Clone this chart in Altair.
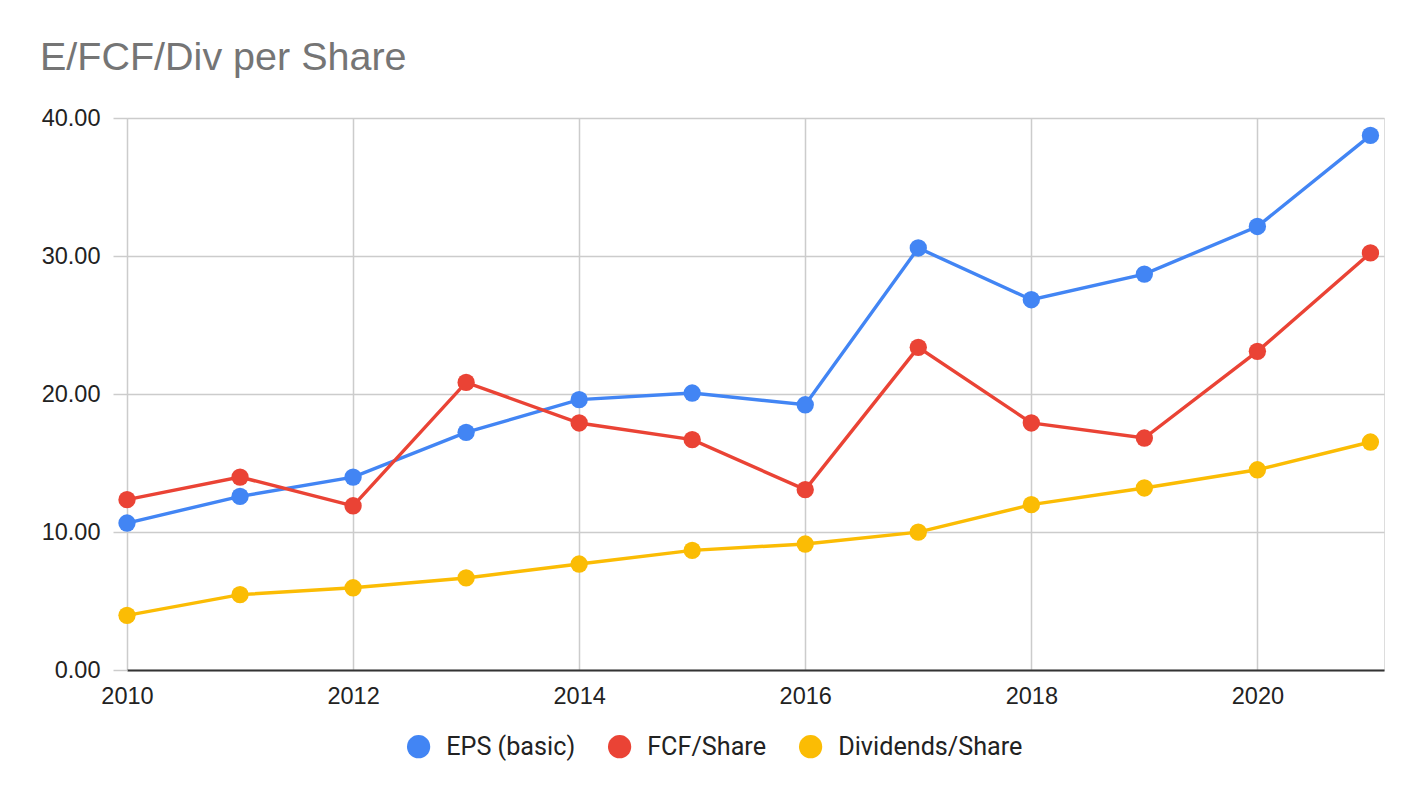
import altair as alt
import pandas as pd

years = [2010, 2011, 2012, 2013, 2014, 2015, 2016, 2017, 2018, 2019, 2020, 2021]
eps = [10.65, 12.58, 13.98, 17.22, 19.59, 20.07, 19.22, 30.58, 26.83, 28.69, 32.14, 38.74]
fcf = [12.34, 13.98, 11.90, 20.84, 17.90, 16.69, 13.07, 23.38, 17.90, 16.81, 23.09, 30.22]
div = [3.96, 5.46, 5.96, 6.67, 7.68, 8.67, 9.13, 9.99, 11.98, 13.19, 14.51, 16.52]

series_names = ["EPS (basic)", "FCF/Share", "Dividends/Share"]
series_colors = ["#4285F4", "#EA4335", "#FBBC04"]
x_ticks = [2010, 2012, 2014, 2016, 2018, 2020]
y_ticks = [0, 10, 20, 30, 40]

rows = []
for name, vals in zip(series_names, [eps, fcf, div]):
    for yr, v in zip(years, vals):
        rows.append({"Year": yr, "Value": v, "Series": name})
df = pd.DataFrame(rows)

TICK_FONT = "Liberation Sans"
LEG_FONT = "Roboto"

x = alt.X(
    "Year:Q",
    scale=alt.Scale(domain=[2010, 2021.12], nice=False, zero=False),
    axis=alt.Axis(
        values=x_ticks, format="d", title=None, ticks=False,
        labelFontSize=23.5, labelColor="#222222", labelFont=TICK_FONT, labelPadding=14,
        grid=True, gridColor="#cccccc", gridWidth=1.5,
        domain=True, domainColor="#333333", domainWidth=2,
        labelFlush=False,
    ),
)
y = alt.Y(
    "Value:Q",
    scale=alt.Scale(domain=[0, 40], nice=False),
    axis=alt.Axis(
        values=y_ticks, format=".2f", title=None,
        ticks=True, tickSize=14, tickColor="#cccccc", tickWidth=1.5,
        labelFontSize=23.5, labelColor="#222222", labelFont=TICK_FONT, labelPadding=13,
        grid=True, gridColor="#cccccc", gridWidth=1.5, domain=False,
    ),
)
color = alt.Color(
    "Series:N",
    scale=alt.Scale(domain=series_names, range=series_colors),
    legend=alt.Legend(
        title=None, orient="none", direction="horizontal",
        legendX=279, legendY=616, padding=0,
        symbolType="circle", symbolSize=540, symbolStrokeWidth=0,
        labelFontSize=25.2, labelFont=LEG_FONT, labelColor="#222222",
        labelOffset=15, columnPadding=31, labelLimit=400,
    ),
)

base = alt.Chart(df).encode(x=x, y=y, color=color)
lines = base.mark_line(strokeWidth=3.4)
points = base.mark_circle(size=300, opacity=1)

chart = (
    alt.layer(lines, points)
    .properties(
        width=1257,
        height=552,
        title=alt.TitleParams(
            "E/FCF/Div per Share", anchor="start", frame="group", dx=-87, offset=28,
            fontSize=39.5, font="Liberation Sans",
            fontWeight="normal", color="#757575",
        ),
        autosize=alt.AutoSizeParams(type="none"),
        padding={"left": 119, "top": 110, "right": 30, "bottom": 110},
    )
    .configure_view(stroke=None)
    .configure(background="white")
)

chart.save("out.html", embed_options={"renderer": "svg", "actions": False})
